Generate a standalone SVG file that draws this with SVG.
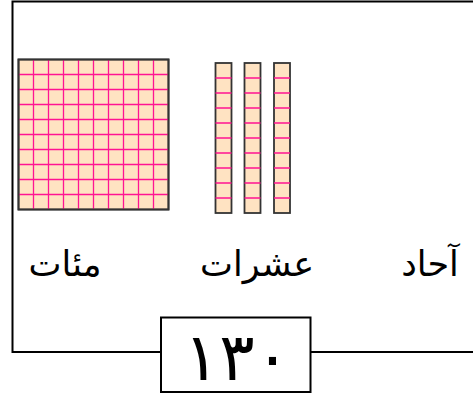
<svg xmlns="http://www.w3.org/2000/svg" width="473" height="396" viewBox="0 0 473 396">
<defs>
<style>
.frame{fill:none;stroke:#000;stroke-width:2}
.blk{fill:#ffe3c2;stroke:#333;stroke-width:1.8}
.grid{stroke:#ff1493;stroke-width:1.3}
.lbl{font-family:"Liberation Serif","DejaVu Serif","DejaVu Sans",serif;font-size:35px;fill:#000}
.num{font-family:"DejaVu Sans","Noto Sans",sans-serif;font-size:66px;fill:#000}
</style>
</defs>
<g id="frame">
<path class="frame" d="M473,1.5 H12.5 V352 H161 M311 352 H473"/>
</g>
<g id="hundreds">
<rect class="blk" x="18.5" y="59.5" width="150" height="150"/>
<path class="grid" d="M33.5,59.5V209.5M48.5,59.5V209.5M63.5,59.5V209.5M78.5,59.5V209.5M93.5,59.5V209.5M108.5,59.5V209.5M123.5,59.5V209.5M138.5,59.5V209.5M153.5,59.5V209.5M18.5,74.5H168.5M18.5,89.5H168.5M18.5,104.5H168.5M18.5,119.5H168.5M18.5,134.5H168.5M18.5,149.5H168.5M18.5,164.5H168.5M18.5,179.5H168.5M18.5,194.5H168.5"/>
<rect x="18.5" y="59.5" width="150" height="150" fill="none" stroke="#333" stroke-width="1.8"/>
</g>
<g id="tens1">
<rect class="blk" x="215.5" y="63" width="16" height="150"/>
<path class="grid" d="M215.5,78H231.5M215.5,93H231.5M215.5,108H231.5M215.5,123H231.5M215.5,138H231.5M215.5,153H231.5M215.5,168H231.5M215.5,183H231.5M215.5,198H231.5"/>
</g>
<g id="tens2">
<rect class="blk" x="244.5" y="63" width="16" height="150"/>
<path class="grid" d="M244.5,78H260.5M244.5,93H260.5M244.5,108H260.5M244.5,123H260.5M244.5,138H260.5M244.5,153H260.5M244.5,168H260.5M244.5,183H260.5M244.5,198H260.5"/>
</g>
<g id="tens3">
<rect class="blk" x="274" y="63" width="16" height="150"/>
<path class="grid" d="M274,78H290M274,93H290M274,108H290M274,123H290M274,138H290M274,153H290M274,168H290M274,183H290M274,198H290"/>
</g>
<g id="labels">
<text class="lbl" x="65" y="276" text-anchor="middle" direction="rtl">مئات</text>
<text class="lbl" x="257" y="276" text-anchor="middle" direction="rtl">عشرات</text>
<text class="lbl" x="430" y="276" text-anchor="middle" direction="rtl">آحاد</text>
</g>
<g id="number">
<rect x="161" y="317.5" width="149.5" height="74.5" fill="#fff" stroke="#000" stroke-width="2"/>
<text class="num" x="237" y="380" text-anchor="middle" direction="rtl">١٣٠</text>
</g>
</svg>
